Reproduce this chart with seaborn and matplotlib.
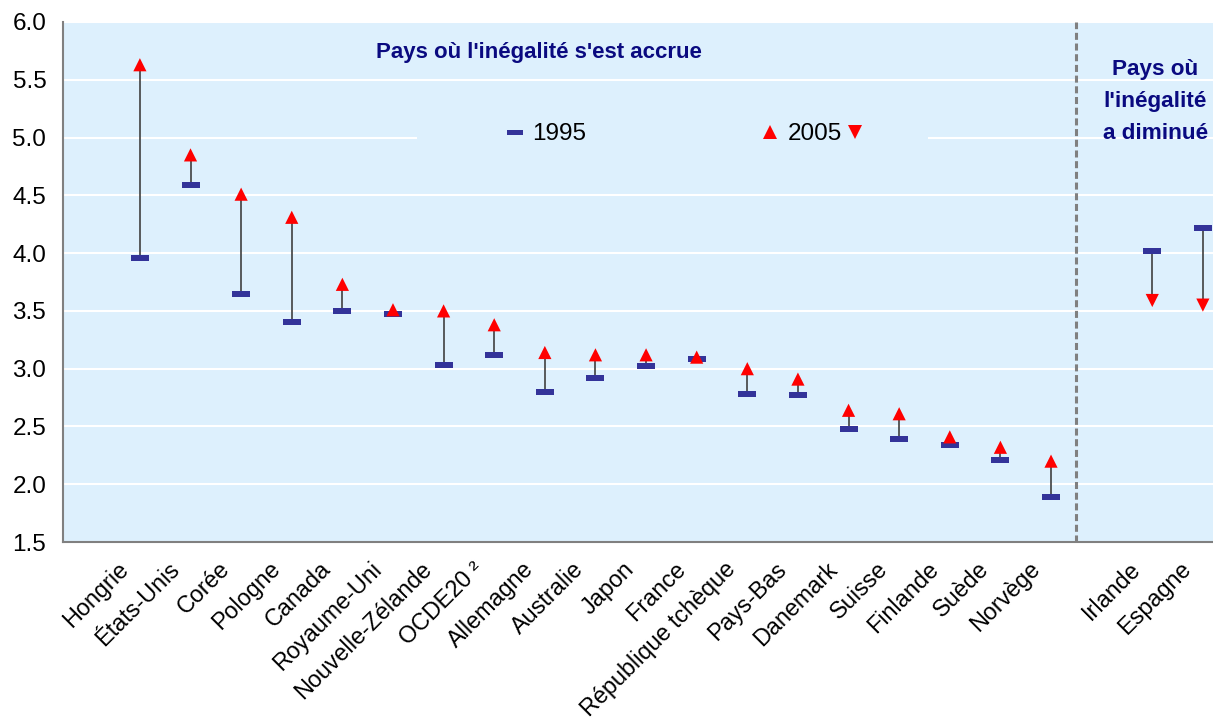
import numpy as np
import pandas as pd
import seaborn as sns
import matplotlib.pyplot as plt
import matplotlib.transforms as mtrans
from matplotlib.lines import Line2D
from matplotlib.patches import Rectangle

# ratio values
pays = ["Hongrie", "États-Unis", "Corée", "Pologne", "Canada", "Royaume-Uni",
        "Nouvelle-Zélande", "OCDE20 ²", "Allemagne", "Australie", "Japon", "France",
        "République tchèque", "Pays-Bas", "Danemark", "Suisse", "Finlande", "Suède",
        "Norvège", "Irlande", "Espagne"]
val_1995 = [3.96, 4.59, 3.65, 3.40, 3.50, 3.47, 3.03, 3.12, 2.80, 2.92, 3.02, 3.08,
            2.78, 2.77, 2.48, 2.39, 2.34, 2.21, 1.89, 4.02, 4.22]
val_2005 = [5.63, 4.85, 4.51, 4.31, 3.73, 3.51, 3.50, 3.38, 3.14, 3.12, 3.12, 3.10,
            3.00, 2.91, 2.64, 2.61, 2.41, 2.32, 2.20, 3.59, 3.55]
n_hausse = 19  # first 19 : inequality went up

bg = '#DDF0FD'
navy = '#333399'
titre_col = '#0A0A80'

# one empty slot between the two groups
pos = np.r_[np.arange(n_hausse), np.arange(n_hausse + 1, len(pays) + 1)]
df = pd.DataFrame({'pays': pays, 'pos': pos, 'y1995': val_1995, 'y2005': val_2005})
df['sens'] = np.where(df.y2005 > df.y1995, 'hausse', 'baisse')

sns.set_style('white')
plt.rcParams['font.family'] = ['Liberation Sans', 'DejaVu Sans']
plt.rcParams['text.color'] = 'black'

fig = plt.figure(figsize=(12.13, 7.23), dpi=100)
ax = fig.add_axes([0.0519, 0.2503, 0.9481, 0.7193])
ax.set_facecolor(bg)

dash = [(-1, -0.3), (1, -0.3), (1, 0.3), (-1, 0.3), (-1, -0.3)]

ax.vlines(df.pos, df.y1995, df.y2005, color='#404040', lw=1.2, zorder=2)
sns.scatterplot(data=df, x='pos', y='y1995', marker=dash, s=150, color=navy,
                linewidth=0, ax=ax, zorder=3, legend=False)
sns.scatterplot(data=df, x='pos', y='y2005', style='sens',
                markers={'hausse': '^', 'baisse': 'v'}, color='red', s=90,
                linewidth=0, ax=ax, zorder=4, legend=False)

ax.set_ylim(1.5, 6.0)
ax.set_xlim(-1.52, 21.2)
ax.set_yticks(np.arange(1.5, 6.01, 0.5))
ax.set_yticklabels([f'{t:.1f}' for t in np.arange(1.5, 6.01, 0.5)])
ax.set_xticks(df.pos)
ax.set_xticklabels(df.pays, rotation=45, ha='right', va='center', rotation_mode='anchor')
ax.set_xlabel('')
ax.set_ylabel('')
ax.yaxis.grid(True, color='white', lw=1.5)
ax.set_axisbelow(True)

ax.tick_params(axis='x', length=0, labelsize=16.8, pad=17, labelcolor='black')
ax.tick_params(axis='y', direction='in', length=6, width=1.5, color='#808080',
               labelsize=17.5, pad=12, labelcolor='black')
for s in ['top', 'right']:
    ax.spines[s].set_visible(False)
for s in ['left', 'bottom']:
    ax.spines[s].set_color('#808080')
    ax.spines[s].set_linewidth(1.5)

# shift the slanted labels a bit to the left, like the original
decal = mtrans.ScaledTranslation(-0.15, 0, fig.dpi_scale_trans)
for lab in ax.get_xticklabels():
    lab.set_transform(lab.get_transform() + decal)

# separation between the two groups
ax.axvline(n_hausse - 0.5, color='#808080', lw=2.2, ls=(0, (2.3, 1.2)), zorder=1)

ax.text(0.414, 0.942, "Pays où l'inégalité s'est accrue", transform=ax.transAxes,
        ha='center', va='center', fontsize=16, fontweight='bold', color=titre_col)
ax.text(0.950, 0.847, "Pays où\nl'inégalité\na diminué", transform=ax.transAxes,
        ha='center', va='center', fontsize=16.2, fontweight='bold', color=titre_col,
        linespacing=1.7)

# legend box hides the gridline behind it
ax.add_patch(Rectangle((0.308, 0.74), 0.444, 0.08, transform=ax.transAxes,
                       facecolor=bg, edgecolor='none', zorder=1))
h1 = Line2D([], [], ls='', marker=dash, ms=12, color=navy, mew=0)
h2 = Line2D([], [], ls='', marker='^', ms=9.5, color='red', mew=0)
h3 = Line2D([], [], ls='', marker='v', ms=9.5, color='red', mew=0)
legA = ax.legend([h1], ['1995'], loc='center left', bbox_to_anchor=(0.3825, 0.7845),
                 frameon=False, fontsize=17.5, handlelength=1.0, handletextpad=0.2,
                 borderpad=0, borderaxespad=0)
ax.add_artist(legA)
ax.legend([h2, h3], ['2005', ''], loc='center left', bbox_to_anchor=(0.6045, 0.7845),
          ncol=2, frameon=False, fontsize=17.5, handlelength=1.0, handletextpad=0.2,
          columnspacing=0.07, borderpad=0, borderaxespad=0)

fig.savefig('out.png', dpi=100)
